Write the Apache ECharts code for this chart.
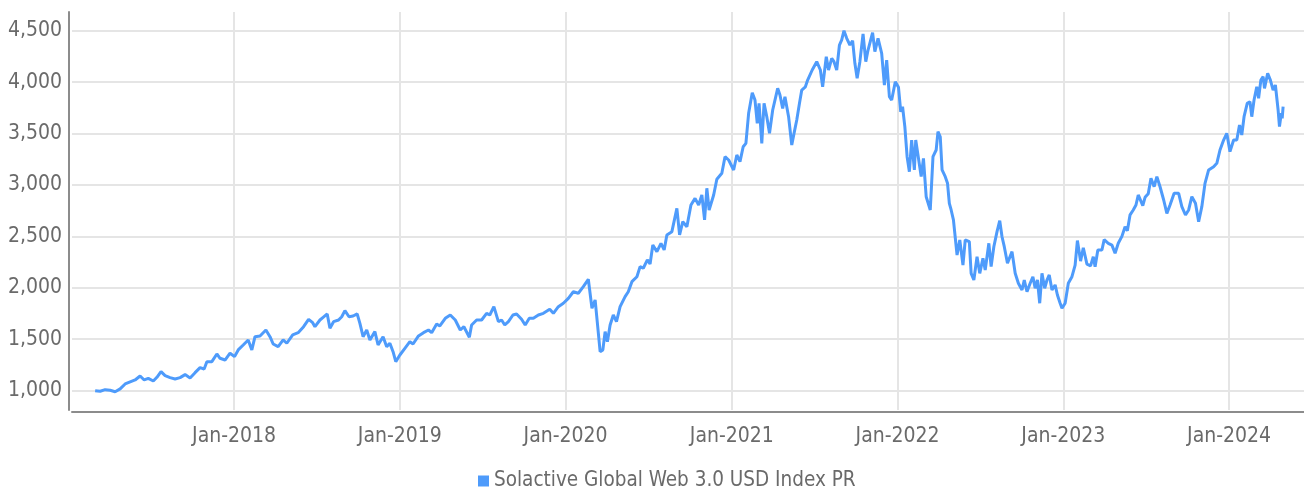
<!DOCTYPE html>
<html>
<head>
<meta charset="utf-8">
<title>Solactive Global Web 3.0 USD Index PR</title>
<script src="https://cdn.jsdelivr.net/npm/echarts@6/dist/echarts.min.js"></script>
<style>
  html, body { margin: 0; padding: 0; background: #ffffff; }
  #chart { width: 1304px; height: 493px; }
</style>
</head>
<body>
<div id="chart"></div>
<script>
// Index level, sampled from the daily close
const seriesName = 'Solactive Global Web 3.0 USD Index PR';

const dates = [
  // 2017
  '2017-03-01','2017-03-12','2017-03-23','2017-04-03','2017-04-14','2017-04-25','2017-05-06','2017-05-17',
  '2017-05-28','2017-06-08','2017-06-17','2017-06-26','2017-07-07','2017-07-15','2017-07-24','2017-08-02',
  '2017-08-13','2017-08-24','2017-09-04','2017-09-15','2017-09-26','2017-10-07','2017-10-18','2017-10-27',
  '2017-11-02','2017-11-13','2017-11-24','2017-12-01','2017-12-12','2017-12-23',
  // 2018
  '2018-01-02','2018-01-10','2018-01-21','2018-02-01','2018-02-09','2018-02-16','2018-02-27','2018-03-12',
  '2018-03-21','2018-03-28','2018-04-08','2018-04-19','2018-04-27','2018-05-10','2018-05-22','2018-06-03',
  '2018-06-14','2018-06-23','2018-06-28','2018-07-09','2018-07-16','2018-07-25','2018-07-31','2018-08-08',
  '2018-08-19','2018-08-26','2018-09-02','2018-09-11','2018-09-20','2018-09-29','2018-10-05','2018-10-12',
  '2018-10-20','2018-10-27','2018-11-07','2018-11-14','2018-11-25','2018-12-03','2018-12-10','2018-12-17',
  '2018-12-23',
  // 2019
  '2019-01-01','2019-01-12','2019-01-23','2019-01-30','2019-02-11','2019-02-22','2019-03-05','2019-03-12',
  '2019-03-23','2019-03-30','2019-04-11','2019-04-22','2019-05-03','2019-05-14','2019-05-22','2019-06-03',
  '2019-06-08','2019-06-19','2019-06-30','2019-07-11','2019-07-18','2019-07-27','2019-08-06','2019-08-13',
  '2019-08-20','2019-08-28','2019-09-07','2019-09-15','2019-09-26','2019-10-04','2019-10-13','2019-10-22',
  '2019-11-02','2019-11-13','2019-11-27','2019-12-05','2019-12-16','2019-12-27',
  // 2020
  '2020-01-07','2020-01-18','2020-01-29','2020-02-09','2020-02-20','2020-02-28','2020-03-06','2020-03-11',
  '2020-03-17','2020-03-23','2020-03-28','2020-04-02','2020-04-08','2020-04-15','2020-04-22','2020-04-30',
  '2020-05-11','2020-05-18','2020-05-26','2020-06-06','2020-06-13','2020-06-20','2020-06-29','2020-07-05',
  '2020-07-11','2020-07-20','2020-07-29','2020-08-05','2020-08-11','2020-08-22','2020-09-02','2020-09-08',
  '2020-09-15','2020-09-24','2020-10-03','2020-10-12','2020-10-20','2020-10-27','2020-11-02','2020-11-07',
  '2020-11-12','2020-11-22','2020-11-29','2020-12-10','2020-12-17','2020-12-25',
  // 2021
  '2021-01-05','2021-01-12','2021-01-19','2021-01-26','2021-02-01','2021-02-07','2021-02-15','2021-02-21',
  '2021-02-26','2021-03-02','2021-03-08','2021-03-13','2021-03-19','2021-03-25','2021-04-01','2021-04-12',
  '2021-04-17','2021-04-23','2021-04-28','2021-05-06','2021-05-13','2021-05-18','2021-05-24','2021-05-30',
  '2021-06-04','2021-06-12','2021-06-17','2021-06-27','2021-07-07','2021-07-15','2021-07-20','2021-07-28',
  '2021-08-02','2021-08-09','2021-08-14','2021-08-20','2021-08-26','2021-08-31','2021-09-05','2021-09-11',
  '2021-09-18','2021-09-24','2021-09-29','2021-10-04','2021-10-10','2021-10-17','2021-10-23','2021-10-28',
  '2021-11-07','2021-11-12','2021-11-19','2021-11-27','2021-12-03','2021-12-08','2021-12-14','2021-12-19',
  '2021-12-27',
  // 2022
  '2022-01-03','2022-01-08','2022-01-12','2022-01-17','2022-01-22','2022-01-27','2022-02-01','2022-02-07',
  '2022-02-10','2022-02-16','2022-02-22','2022-02-27','2022-03-05','2022-03-14','2022-03-20','2022-03-27',
  '2022-03-31','2022-04-05','2022-04-09','2022-04-16','2022-04-21','2022-04-25','2022-04-29','2022-05-04',
  '2022-05-12','2022-05-18','2022-05-25','2022-05-30','2022-06-08','2022-06-12','2022-06-18','2022-06-25',
  '2022-07-01','2022-07-08','2022-07-13','2022-07-21','2022-07-26','2022-08-01','2022-08-08','2022-08-14',
  '2022-08-19','2022-08-24','2022-08-31','2022-09-10','2022-09-17','2022-09-24','2022-10-02','2022-10-07',
  '2022-10-13','2022-10-20','2022-10-26','2022-10-31','2022-11-05','2022-11-10','2022-11-15','2022-11-21',
  '2022-11-26','2022-12-01','2022-12-07','2022-12-14','2022-12-19','2022-12-25','2022-12-29',
  // 2023
  '2023-01-05','2023-01-12','2023-01-20','2023-01-27','2023-02-01','2023-02-08','2023-02-14','2023-02-22',
  '2023-03-02','2023-03-08','2023-03-12','2023-03-18','2023-03-27','2023-04-01','2023-04-10','2023-04-18',
  '2023-04-25','2023-05-02','2023-05-10','2023-05-17','2023-05-22','2023-05-28','2023-06-04','2023-06-10',
  '2023-06-15','2023-06-25','2023-06-30','2023-07-07','2023-07-13','2023-07-20','2023-07-26','2023-08-02',
  '2023-08-10','2023-08-17','2023-08-24','2023-09-02','2023-09-12','2023-09-19','2023-09-27','2023-10-04',
  '2023-10-11','2023-10-19','2023-10-26','2023-11-02','2023-11-09','2023-11-17','2023-11-28','2023-12-05',
  '2023-12-12','2023-12-20','2023-12-27',
  // 2024
  '2024-01-03','2024-01-11','2024-01-18','2024-01-24','2024-01-29','2024-02-03','2024-02-10','2024-02-16',
  '2024-02-20','2024-02-25','2024-03-02','2024-03-06','2024-03-11','2024-03-16','2024-03-19','2024-03-26',
  '2024-04-01','2024-04-07','2024-04-12','2024-04-18','2024-04-21','2024-04-25','2024-04-27','2024-04-29'
];

const values = [
  // 2017
  1000, 994, 1010, 1004, 990, 1017, 1065, 1085,
  1104, 1143, 1104, 1120, 1094, 1130, 1185, 1146,
  1127, 1114, 1127, 1156, 1124, 1175, 1224, 1211,
  1282, 1282, 1357, 1315, 1298, 1364,
  // 2018
  1331, 1396, 1444, 1493, 1396, 1525, 1532, 1590,
  1525, 1454, 1428, 1493, 1461, 1542, 1564, 1622,
  1694, 1661, 1622, 1687, 1713, 1746, 1607, 1671,
  1687, 1719, 1778, 1719, 1726, 1746, 1655, 1525,
  1590, 1493, 1574, 1444, 1525, 1428, 1461, 1379,
  1282,
  // 2019
  1347, 1412, 1476, 1454, 1532, 1564, 1590, 1564,
  1648, 1629, 1704, 1736, 1687, 1590, 1622, 1519,
  1639, 1687, 1687, 1752, 1736, 1817, 1671, 1687,
  1639, 1671, 1736, 1746, 1694, 1639, 1704, 1704,
  1736, 1752, 1791, 1752, 1817, 1850,
  // 2020
  1898, 1962, 1947, 2011, 2083, 1801, 1882, 1655,
  1379, 1396, 1574, 1476, 1639, 1736, 1671, 1817,
  1914, 1962, 2060, 2108, 2206, 2190, 2271, 2232,
  2417, 2352, 2433, 2368, 2514, 2546, 2773, 2514,
  2643, 2594, 2805, 2870, 2805, 2903, 2660, 2968,
  2757, 2903, 3055, 3114, 3275, 3243,
  // 2021
  3146, 3292, 3227, 3372, 3405, 3697, 3897, 3826,
  3600, 3794, 3405, 3794, 3664, 3502, 3729, 3940,
  3875, 3745, 3858, 3664, 3389, 3502, 3632, 3794,
  3923, 3955, 4020, 4118, 4199, 4118, 3955, 4247,
  4118, 4231, 4199, 4118, 4361, 4410, 4500, 4426,
  4361, 4403, 4183, 4037, 4199, 4469, 4199, 4312,
  4481, 4296, 4426, 4280, 3972, 4215, 3858, 3826,
  4004,
  // 2022
  3950, 3712, 3761, 3567, 3275, 3129, 3437, 3146,
  3437, 3259, 3081, 3259, 2886, 2757, 3275, 3340,
  3518, 3469, 3146, 3081, 3016, 2822, 2757, 2660,
  2319, 2465, 2222, 2465, 2449, 2141, 2076, 2303,
  2141, 2287, 2173, 2433, 2206, 2400, 2546, 2653,
  2497, 2400, 2239, 2352, 2141, 2044, 1979, 2076,
  1962, 2044, 2108, 1996, 2076, 1850, 2141, 1996,
  2076, 2125, 1979, 2028, 1930, 1850, 1801,
  // 2023
  1850, 2044, 2108, 2220, 2460, 2260, 2390, 2230,
  2214, 2303, 2206, 2368, 2368, 2468, 2433, 2415,
  2336, 2433, 2500, 2594, 2554, 2710, 2757, 2805,
  2903, 2800, 2880, 2915, 3065, 2983, 3081, 2983,
  2854, 2724, 2805, 2919, 2919, 2789, 2708, 2757,
  2886, 2822, 2643, 2789, 3016, 3146, 3178, 3211,
  3340, 3437, 3502,
  // 2024
  3324, 3437, 3437, 3583, 3486, 3664, 3794, 3810,
  3664, 3826, 3955, 3842, 4020, 4053, 3939, 4085,
  4020, 3923, 3972, 3729, 3567, 3697, 3648, 3761
];

// Axis ticks
const yearTicks = ['2018-01-01', '2019-01-01', '2020-01-01', '2021-01-01', '2022-01-01', '2023-01-01', '2024-01-01'];
const valueTicks = [1000, 1500, 2000, 2500, 3000, 3500, 4000, 4500];

const FONT = '"Liberation Sans Narrow", "DejaVu Sans Condensed", "Roboto", sans-serif';
const TEXT = '#6a6a6a';
const LINE = '#4e9bfb';
const toTime = s => new Date(s + 'T00:00:00').getTime();
const yearTimes = yearTicks.map(toTime);

const chart = echarts.init(document.getElementById('chart'), null, { renderer: 'canvas' });

chart.setOption({
  animation: false,
  backgroundColor: '#ffffff',
  textStyle: { fontFamily: FONT },
  grid: { left: 72, right: 0, top: 12, bottom: 83 },
  legend: {
    data: [seriesName],
    left: 478,
    top: 470,
    padding: 0,
    icon: 'rect',
    itemWidth: 11,
    itemHeight: 11,
    selectedMode: false,
    textStyle: { fontFamily: FONT, fontSize: 20.5, color: TEXT, lineHeight: 22 }
  },
  xAxis: {
    // time values on a linear axis so the year labels can be placed exactly
    type: 'value',
    min: toTime('2017-01-09'),
    max: toTime('2024-06-14'),
    offset: 2,
    axisLine: { show: true, lineStyle: { color: '#8c8c8c', width: 2 } },
    axisTick: { show: false },
    splitLine: { show: false },
    axisLabel: {
      customValues: yearTimes,
      formatter: v => 'Jan-' + new Date(v).getFullYear(),
      margin: 14,
      fontFamily: FONT,
      fontSize: 21,
      color: TEXT
    }
  },
  yAxis: {
    type: 'value',
    min: 812,
    max: 4682,
    offset: 3,
    axisLine: { show: true, lineStyle: { color: '#8c8c8c', width: 2 } },
    axisTick: { show: false },
    splitLine: { show: false },
    axisLabel: {
      customValues: valueTicks,
      formatter: v => v.toLocaleString('en-US'),
      margin: 7,
      fontFamily: FONT,
      fontSize: 21,
      color: TEXT
    }
  },
  series: [{
    name: seriesName,
    type: 'line',
    data: dates.map((d, i) => [toTime(d), values[i]]),
    showSymbol: false,
    symbol: 'none',
    lineStyle: { color: LINE, width: 3 },
    itemStyle: { color: LINE },
    z: 3,
    markLine: {
      silent: true,
      symbol: 'none',
      z: 1,
      label: { show: false },
      emphasis: { disabled: true },
      lineStyle: { color: '#e5e5e5', width: 2, type: 'solid' },
      data: valueTicks.map(v => ({ yAxis: v })).concat(yearTimes.map(t => ({ xAxis: t })))
    }
  }]
});
</script>
</body>
</html>
